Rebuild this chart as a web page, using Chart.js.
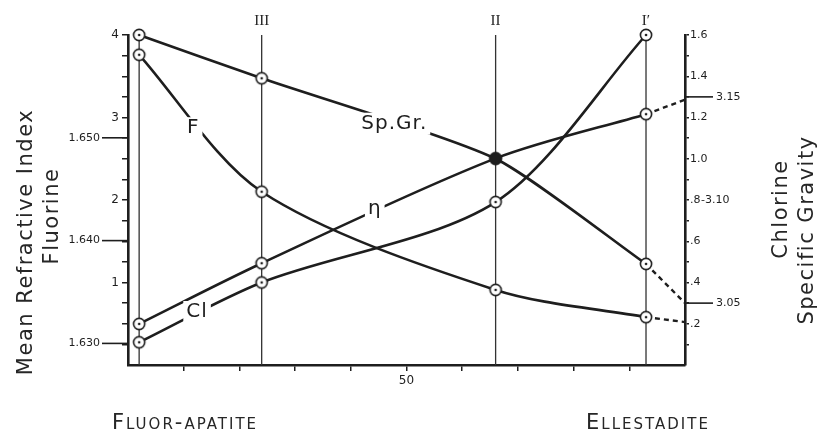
<!DOCTYPE html>
<html>
<head>
<meta charset="utf-8">
<script src="https://cdn.jsdelivr.net/npm/chart.js@4.4.0/dist/chart.umd.min.js"></script>
<style>
  html, body { margin: 0; padding: 0; background: #fff; }
  #wrap { width: 834px; height: 434px; }
</style>
</head>
<body>
<div id="wrap"><canvas id="myChart" width="834" height="434"></canvas></div>
<script>
// composition steps (x, 0 = fluor-apatite .. 100 = ellestadite)
const positions = [2, 24, 66, 93];
const stageLabels = ['', 'III', 'II', 'I\u2032'];
// measured values at each step
const fluorine = [3.76, 2.10, 0.91, 0.58];
const chlorine = [0.11, 0.40, 0.79, 1.60];
const refractive = [1.6319, 1.6378, 1.6480, 1.6523];
const specGravity = [3.180, 3.159, 3.120, 3.069];
// dashed extrapolation to the end of the scale
const extX = 100;
const fluorineExt = 0.52;
const refractiveExt = 1.6537;
const specGravityExt = 3.050;
// extra axis ticks
const riTicks = [1.630, 1.640, 1.650];
const sgTicks = [3.05, 3.10, 3.15];

const INK = '#1e1e1e';
const TICK_FONT = '"DejaVu Sans", sans-serif';

function makeMarker(filled) {
  const c = document.createElement('canvas');
  c.width = 16; c.height = 16;
  const g = c.getContext('2d');
  g.beginPath();
  g.arc(8, 8, 5.6, 0, Math.PI * 2);
  g.fillStyle = filled ? INK : '#fff';
  g.fill();
  g.lineWidth = 1.6;
  g.strokeStyle = INK;
  g.stroke();
  if (!filled) {
    g.beginPath();
    g.arc(8, 8, 1.3, 0, Math.PI * 2);
    g.fillStyle = INK;
    g.fill();
  }
  return c;
}
const mk = makeMarker(false);
const mkFilled = makeMarker(true);

const pts = (vals) => positions.map((x, i) => ({ x: x, y: vals[i] }));
const ext = (vals, end) => [{ x: positions[positions.length - 1], y: vals[vals.length - 1] }, { x: extX, y: end }];

const verticals = positions.flatMap(p => [{ x: p, y: 0 }, { x: p, y: 4 }, { x: p, y: null }]);

const curve = (data, axis, tension, styles) => ({
  data: data, yAxisID: axis, borderColor: INK, borderWidth: 2.6,
  tension: tension, pointStyle: styles || mk,
  pointRadius: 6, clip: false, order: 1, fill: false
});
const dashed = (data, axis) => ({
  data: data, yAxisID: axis, borderColor: INK, borderWidth: 2.4,
  borderDash: [5, 4], pointRadius: 0, clip: false, order: 2, fill: false
});

const curveLabels = [
  { text: 'F', x: 11.7, v: 2.87, axis: 'yF' },
  { text: 'Sp.Gr.', x: 47.8, v: 3.137, axis: 'ySG' },
  { text: '\u03B7', x: 44.3, v: 1.6431, axis: 'yRI' },
  { text: 'Cl', x: 12.4, v: 0.257, axis: 'yCl' }
];

const decor = {
  id: 'decor',
  afterDatasetsDraw(chart) {
    const ctx = chart.ctx;
    const a = chart.chartArea;
    const s = chart.scales;
    ctx.save();
    ctx.strokeStyle = INK;
    ctx.fillStyle = INK;

    // refractive index ticks (left)
    ctx.lineWidth = 1.6;
    ctx.font = '11px ' + TICK_FONT;
    ctx.textAlign = 'right';
    ctx.textBaseline = 'middle';
    riTicks.forEach(v => {
      const y = s.yRI.getPixelForValue(v);
      ctx.beginPath(); ctx.moveTo(a.left - 26, y); ctx.lineTo(a.left, y); ctx.stroke();
      ctx.fillText(v.toFixed(3), a.left - 28, y);
    });

    // specific gravity ticks (right)
    ctx.textAlign = 'left';
    sgTicks.forEach(v => {
      const y = s.ySG.getPixelForValue(v);
      if (Math.abs(v - 3.10) < 1e-6) {
        ctx.fillText('-' + v.toFixed(2), a.right + 16, y);
      } else {
        ctx.beginPath(); ctx.moveTo(a.right, y); ctx.lineTo(a.right + 28, y); ctx.stroke();
        ctx.fillText(v.toFixed(2), a.right + 31, y);
      }
    });

    // stage numerals
    ctx.font = '15px "Liberation Serif", serif';
    ctx.textAlign = 'center';
    positions.forEach((p, i) => {
      if (stageLabels[i]) ctx.fillText(stageLabels[i], s.x.getPixelForValue(p), a.top - 14);
    });

    // curve labels with a gap in the line
    ctx.font = '20px "DejaVu Sans", sans-serif';
    ctx.letterSpacing = '1px';
    curveLabels.forEach(l => {
      const x = s.x.getPixelForValue(l.x);
      const y = s[l.axis].getPixelForValue(l.v);
      const w = ctx.measureText(l.text).width;
      ctx.fillStyle = '#fff';
      ctx.fillRect(x - w / 2 - 3, y - 11, w + 6, 22);
      ctx.fillStyle = INK;
      ctx.fillText(l.text, x, y);
    });

    // axis titles
    ctx.font = '21px "DejaVu Sans", sans-serif';
    ctx.letterSpacing = '1.5px';
    ctx.fillStyle = '#262626';
    const vtext = (t, x, y) => {
      ctx.save(); ctx.translate(x, y); ctx.rotate(-Math.PI / 2);
      ctx.fillText(t, 0, 0); ctx.restore();
    };
    vtext('Mean Refractive Index', 27, 242);
    vtext('Fluorine', 53, 216);
    vtext('Chlorine', 782, 209);
    vtext('Specific Gravity', 808, 230);

    // end members
    ctx.font = 'small-caps 21px "DejaVu Sans", sans-serif';
    ctx.letterSpacing = '2px';
    ctx.fillText('Fluor-apatite', 185, 424);
    ctx.fillText('Ellestadite', 648, 424);
    ctx.restore();
  }
};

const hideEnds = (ctx, lo, hi) => (ctx.tick && (ctx.tick.value <= lo + 1e-9 || ctx.tick.value >= hi - 1e-9)) ? 'rgba(0,0,0,0)' : INK;

new Chart(document.getElementById('myChart').getContext('2d'), {
  type: 'line',
  data: {
    datasets: [
      { data: verticals, yAxisID: 'yF', borderColor: '#333', borderWidth: 1.3, pointRadius: 0, spanGaps: false, order: 10, fill: false },
      curve(pts(specGravity), 'ySG', 0.2, [mk, mk, mkFilled, mk]),
      curve(pts(refractive), 'yRI', 0.3),
      curve(pts(fluorine), 'yF', 0.3),
      curve(pts(chlorine), 'yCl', 0.3),
      dashed(ext(specGravity, specGravityExt), 'ySG'),
      dashed(ext(refractive, refractiveExt), 'yRI'),
      dashed(ext(fluorine, fluorineExt), 'yF')
    ]
  },
  options: {
    responsive: false,
    devicePixelRatio: 1,
    animation: false,
    layout: { padding: { top: 35, left: 0, right: 0, bottom: 0 } },
    plugins: { legend: { display: false }, tooltip: { enabled: false } },
    scales: {
      x: {
        type: 'linear', position: 'bottom', min: 0, max: 100,
        afterFit(sc) { sc.height = 69; },
        ticks: { stepSize: 10, autoSkip: false, maxRotation: 0, padding: 3, color: INK,
          font: { family: TICK_FONT, size: 12 },
          callback: v => (v === 50 ? '50' : '') },
        grid: { drawOnChartArea: false, tickLength: 6, lineWidth: 1.5, color: c => hideEnds(c, 0, 100) },
        border: { display: true, color: INK, width: 2.6 }
      },
      yF: {
        type: 'linear', position: 'left', min: 0, max: 4,
        afterFit(sc) { sc.width = 128; },
        ticks: { stepSize: 0.25, autoSkip: false, padding: 3, color: INK,
          font: { family: TICK_FONT, size: 12 },
          callback: v => (Number.isInteger(v) && v > 0 ? String(v) : '') },
        grid: { drawOnChartArea: false, tickLength: 6, lineWidth: 1.5, color: c => hideEnds(c, 0, 99) },
        border: { display: true, color: INK, width: 2.6 }
      },
      yRI: { type: 'linear', display: false, min: 1.6279, max: 1.6600 },
      yCl: {
        type: 'linear', position: 'right', min: 0, max: 1.6,
        afterFit(sc) { sc.width = 149; },
        ticks: { stepSize: 0.1, autoSkip: false, padding: 1, color: INK,
          font: { family: TICK_FONT, size: 11 },
          callback: v => {
            const t = Math.round(v * 10);
            if (t <= 0 || t % 2) return '';
            return t >= 10 ? (t / 10).toFixed(1) : '.' + t;
          } },
        grid: { drawOnChartArea: false, tickLength: 4, lineWidth: 1.5, color: c => hideEnds(c, 0, 99) },
        border: { display: true, color: INK, width: 2.6 }
      },
      ySG: { type: 'linear', display: false, min: 3.02, max: 3.18 }
    }
  },
  plugins: [decor]
});
</script>
</body>
</html>
